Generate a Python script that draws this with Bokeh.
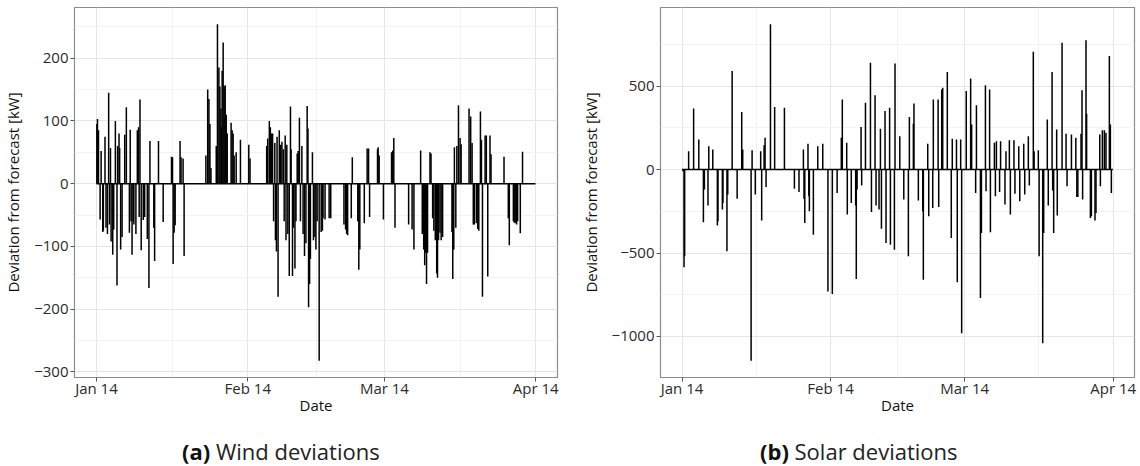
import pandas as pd
from bokeh.plotting import figure
from bokeh.layouts import row, column
from bokeh.models import FixedTicker, Range1d, ColumnDataSource, Div
from bokeh.embed import file_html
from bokeh.resources import INLINE

# ---------------- data ----------------
SERIES_START = "2014-01-01 00:00"
series_span_hours = [0, 2159]          # hourly series: Jan 1 00:00 .. Mar 31 23:00

wind_hours = [2, 5, 10, 18, 23, 31, 34, 42, 47, 54, 60, 64, 69, 72, 80, 85, 93, 101, 104, 111,
              114, 119, 126, 139, 147, 162, 166, 170, 175, 181, 184, 194, 201, 207, 210, 214, 220,
              230, 237, 250, 258, 263, 282, 286, 305, 328, 369, 374, 377, 382, 387, 411, 416, 426,
              431, 538, 547, 553, 558, 563, 589, 595, 602, 607, 612, 615, 618, 623, 628, 633, 638,
              643, 662, 667, 672, 677, 687, 708, 749, 755, 837, 842, 850, 855, 860, 866, 871, 877,
              880, 885, 888, 893, 899, 906, 912, 919, 923, 928, 932, 936, 941, 948, 954, 957, 964,
              969, 976, 981, 987, 992, 998, 1003, 1010, 1016, 1023, 1030, 1036, 1040, 1043, 1048,
              1052, 1062, 1067, 1074, 1079, 1085, 1095, 1105, 1111, 1114, 1124, 1144, 1152, 1217,
              1225, 1230, 1235, 1253, 1258, 1285, 1290, 1295, 1317, 1331, 1338, 1343, 1382, 1385,
              1390, 1411, 1451, 1457, 1462, 1468, 1535, 1552, 1561, 1594, 1602, 1609, 1614, 1619,
              1623, 1628, 1640, 1645, 1653, 1659, 1666, 1673, 1677, 1682, 1689, 1695, 1702, 1748,
              1752, 1757, 1760, 1767, 1772, 1780, 1788, 1793, 1832, 1840, 1847, 1853, 1858, 1868,
              1875, 1880, 1888, 1893, 1898, 1911, 1917, 1924, 1935, 1940, 2004, 2025, 2030, 2050,
              2054, 2059, 2066, 2071, 2084, 2095]
wind_dev_kw = [95, 103, 85, -57, 52, -77, -75, 75, -70, -80, 145, -65, 57, -92, -113, -73, 100, -162, 60, 80,
               57, -105, -85, 78, 122, -78, 86, -60, -113, -60, -65, -80, 85, 90, -53, 134, -106,
               -58, -53, -88, -166, 68, -70, -123, 68, -61, 43, 42, -128, -78, -66, 68, 42, 40,
               -115, 45, 150, 135, 95, 25, 60, 254, 185, 155, 120, 90, 180, 225, 155, 157, 110,
               80, 97, 85, 80, 45, 50, 70, 62, 40, 60, 72, 100, 90, 80, 80, -60, 65,
               -90, -108, 75, -180, 85, 62, 67, 55, -60, 77, -90, 62, -80, -147, 123, 55, -147,
               -70, -135, -60, 48, 52, 105, -60, 60, -80, -115, -95, 124, 88, -197, -160,
               -120, 50, -90, -85, -105, -60, -282, -77, -75, -55, -57, -55, -55, -65,
               -73, -80, -82, -55, 42, -60, -137, -105, -63, 56, 56, -53, 55, 58,
               45, -57, 50, 53, 73, -70, -65, -73, -105, 53, -80, -105, -130, -110,
               -160, -110, 50, 48, -55, -75, -90, -143, -150, -90, -78, -90, -85, -77,
               -152, -105, 58, -70, 60, 125, 73, 63, 120, 107, 65, -65, -65, -63,
               -72, -75, 115, 70, -180, 77, 77, -148, 77, 47, 43, -55, -98, -60,
               -62, -63, -65, -60, -79, 51]

solar_hours = [5, 10, 13, 33, 58, 84, 107, 112, 130, 134, 154, 177, 180, 202, 205, 225, 229, 251, 276,
               299, 304, 346, 351, 367, 394, 399, 411, 416, 421, 443, 464, 513, 563, 586, 608, 611,
               615, 631, 635, 638, 658, 680, 705, 731, 753, 777, 798, 803, 825, 828, 848, 870, 873,
               877, 897, 900, 919, 944, 949, 967, 972, 987, 994, 999, 1017, 1022, 1040, 1044, 1064,
               1067, 1091, 1111, 1134, 1139, 1159, 1162, 1184, 1206, 1209, 1231, 1236, 1256, 1259,
               1283, 1286, 1301, 1306, 1329, 1349, 1354, 1375, 1379, 1396, 1401, 1424, 1446, 1451,
               1471, 1475, 1495, 1500, 1520, 1523, 1541, 1545, 1565, 1570, 1575, 1591, 1596, 1618,
               1623, 1640, 1645, 1663, 1668, 1687, 1692, 1712, 1717, 1735, 1740, 1760, 1764, 1785,
               1789, 1807, 1812, 1830, 1835, 1854, 1857, 1862, 1877, 1880, 1904, 1924, 1929, 1951,
               1973, 1978, 1983, 1999, 2004, 2007, 2024, 2027, 2046, 2051, 2069, 2074, 2093, 2096,
               2106, 2116, 2124, 2141, 2146, 2151]
solar_dev_kw = [-10, -585, -520, 110, 365, 180, -315, -120, -215, 140, 120, -335, -310, -240, -200, -490, -150, 590, -175,
                345, 120, -1145, 115, -150, 110, -305, 145, 190, -105, 870, 375, 370, -115, -135, 120, -175,
                -320, 155, -160, -250, -390, 140, 155, -730, -745, -140, 190, 420, 160, -270, -200, -215, -655,
                -120, 255, -95, 400, 640, -255, 445, -215, -240, 245, -355, 350, -440, 370, -450, -480,
                635, 200, -180, -520, 315, 275, 395, -185, -250, -660, 155, -280, -230, 420,
                420, -225, 480, 490, 585, -410, 185, 180, -675, 180, -980, 470, 545, 270,
                -140, 385, -770, -380, 505, -130, 480, -375, 160, -160, 170, -135, 170, -210,
                110, 175, -270, 175, -145, 140, -190, 155, -150, 200, -95, 705, 110, 115,
                -520, -1040, -380, 300, -215, 585, -125, -380, 240, -275, 760, 215, -100, 210,
                190, -165, -165, 215, 475, -180, 775, 335, -290, -280, -305, -260, 210, -100,
                235, 235, 220, 680, 270, -140]

month_ticks = ["2014-01-01", "2014-02-01", "2014-03-01", "2014-04-01"]
month_labels = ["Jan 14", "Feb 14", "Mar 14", "Apr 14"]
wind_yticks = [-300, -200, -100, 0, 100, 200]
solar_yticks = [-1000, -500, 0, 500]
x_title = "Date"
y_title = "Deviation from forecast [kW]"
captions = [("(a)", "Wind deviations"), ("(b)", "Solar deviations")]

FONT = "Open Sans"
PANEL_W = 570
BOTTOM = 60          # fixed bottom border of the chart panels
CAPTION_H = 466 - (7 + 370 + BOTTOM)


def ms(ts):
    return pd.Timestamp(ts).value / 1e6


def make_panel(hours, values, yticks, left_border, frame_width, right_border):
    t0 = pd.Timestamp(SERIES_START)
    t = [ms(t0 + pd.Timedelta(hours=h)) for h in hours]
    span = [ms(t0 + pd.Timedelta(hours=h)) for h in series_span_hours]
    xpad = 0.05 * (span[1] - span[0])
    vmin, vmax = min(values), max(values)
    ypad = 0.05 * (vmax - vmin)

    p = figure(frame_width=frame_width, frame_height=370,
               min_border_left=left_border, min_border_right=right_border,
               min_border_top=7, min_border_bottom=BOTTOM,
               x_range=Range1d(span[0] - xpad, span[1] + xpad),
               y_range=Range1d(vmin - ypad, vmax + ypad),
               output_backend="svg", toolbar_location=None,
               background_fill_color="white", border_fill_color="white")
    p.outline_line_color = "#8c8c8c"
    p.outline_line_width = 1.2

    xt = [ms(m) for m in month_ticks]
    xminor = [(a + b) / 2 for a, b in zip(xt[:-1], xt[1:])]
    p.xaxis.ticker = FixedTicker(ticks=xt, minor_ticks=xminor)
    p.xaxis.major_label_overrides = {v: lab for v, lab in zip(xt, month_labels)}

    step = yticks[1] - yticks[0]
    yminor = [yticks[0] - step / 2] + [v + step / 2 for v in yticks]
    p.yaxis.ticker = FixedTicker(ticks=yticks, minor_ticks=yminor)
    p.yaxis.major_label_overrides = {v: str(v).replace("-", "\u2212") for v in yticks}

    for ax in (p.xaxis[0], p.yaxis[0]):
        ax.axis_line_color = None
        ax.major_tick_line_color = "#555555"
        ax.major_tick_out = 4
        ax.major_tick_in = 0
        ax.minor_tick_out = 0
        ax.minor_tick_line_color = None
        ax.major_label_text_font = FONT
        ax.major_label_text_font_size = "15px"
        ax.major_label_text_color = "#2b2b2b"
        ax.axis_label_text_font = FONT
        ax.axis_label_text_font_size = "15px"
        ax.axis_label_text_font_style = "normal"
        ax.axis_label_text_color = "#111111"
    p.xaxis.major_label_standoff = -4
    p.xaxis.axis_label_standoff = -6
    p.yaxis.major_label_standoff = 2
    p.yaxis.axis_label_standoff = 8
    p.xaxis.axis_label = x_title
    p.yaxis.axis_label = y_title

    for g in (p.xgrid[0], p.ygrid[0]):
        g.grid_line_color = "#e6e6e6"
        g.grid_line_width = 1
        g.minor_grid_line_color = "#f3f3f3"
        g.minor_grid_line_width = 1

    src = ColumnDataSource(dict(t=t, v=values, z=[0] * len(t)))
    p.line(x=span, y=[0, 0], line_color="black", line_width=1.5)
    p.segment(x0="t", y0="z", x1="t", y1="v", source=src, line_color="black", line_width=1.5)
    return p


def make_caption(caption, pad_left):
    tag, txt = caption
    html = (f"<div style=\"font-family:'{FONT}';font-size:22px;line-height:22px;"
            f"color:#222222;white-space:nowrap;padding-top:3px;padding-left:{pad_left}px;\">"
            f"<b style='color:#111111'>{tag}</b> {txt}</div>")
    return Div(text=html, width=PANEL_W, height=CAPTION_H, margin=0)


p1 = make_panel(wind_hours, wind_dev_kw, wind_yticks, 71, 483, 16)
p2 = make_panel(solar_hours, solar_dev_kw, solar_yticks, 87, 474, 9)
c1 = make_caption(captions[0], 182)
c2 = make_caption(captions[1], 190)

layout = column(row(p1, p2), row(c1, c2))
open("out.html", "w").write(file_html(layout, INLINE))
